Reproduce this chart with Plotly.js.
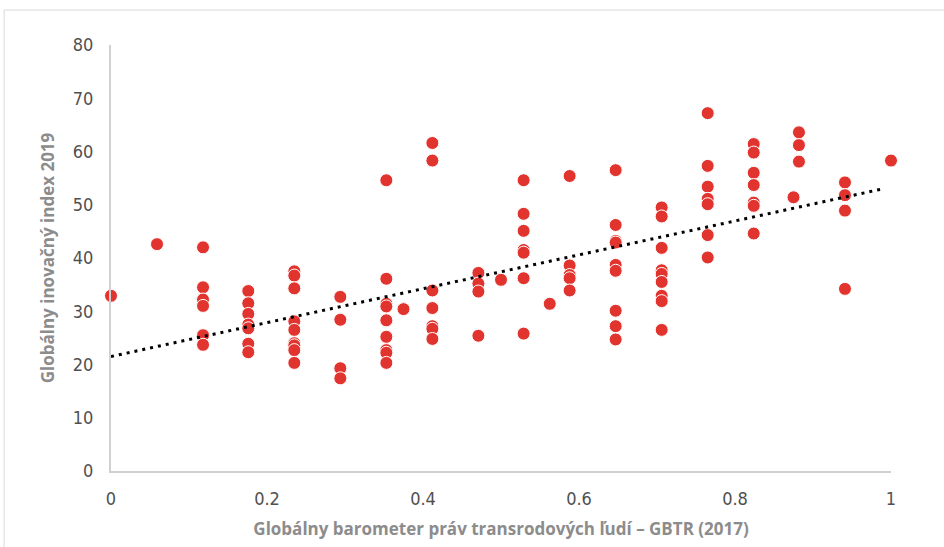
<!DOCTYPE html>
<html>
<head>
<meta charset="utf-8">
<script src="https://cdn.plot.ly/plotly-3.0.1.min.js"></script>
<style>html,body{margin:0;padding:0;background:#fff;}#chart{width:944px;height:547px;}</style>
</head>
<body>
<div id="chart"></div>
<script>
// GBTR score (x) and Global Innovation Index 2019 (y)
const gbtr = [
  0,
  0.059,
  0.118,0.118,0.118,0.118,0.118,0.118,
  0.176,0.176,0.176,0.176,0.176,0.176,0.176,
  0.235,0.235,0.235,0.235,0.235,0.235,0.235,0.235,0.235,
  0.294,0.294,0.294,0.294,
  0.353,0.353,0.353,0.353,0.353,0.353,0.353,0.353,0.353,
  0.375,
  0.412,0.412,0.412,0.412,0.412,0.412,0.412,
  0.471,0.471,0.471,0.471,
  0.5,
  0.529,0.529,0.529,0.529,0.529,0.529,0.529,
  0.5625,
  0.588,0.588,0.588,0.588,0.588,
  0.647,0.647,0.647,0.647,0.647,0.647,0.647,0.647,0.647,
  0.706,0.706,0.706,0.706,0.706,0.706,0.706,0.706,0.706,
  0.765,0.765,0.765,0.765,0.765,0.765,0.765,
  0.824,0.824,0.824,0.824,0.824,0.824,0.824,
  0.875,
  0.882,0.882,0.882,
  0.941,0.941,0.941,0.941,
  1
];
const gii = [
  32.9,
  42.6,
  42.0,34.5,32.2,31.0,25.5,23.7,
  33.8,31.5,29.5,27.5,26.8,23.9,22.3,
  37.5,36.7,34.3,28.1,26.5,24.0,23.6,22.7,20.3,
  32.7,28.4,19.3,17.4,
  54.6,36.1,31.4,30.9,28.3,25.2,22.7,22.2,20.3,
  30.4,
  61.6,58.3,33.9,30.6,27.2,26.7,24.8,
  37.2,35.2,33.7,25.4,
  35.9,
  54.6,48.3,45.1,41.5,41.0,36.2,25.8,
  31.4,
  55.4,38.6,36.8,36.2,33.9,
  56.5,46.2,43.2,42.9,38.7,37.6,30.1,27.2,24.7,
  49.5,47.8,41.9,37.7,37.0,35.5,32.9,31.9,26.5,
  67.2,57.3,53.4,51.1,50.1,44.3,40.1,
  61.4,59.8,56.0,53.7,50.4,49.8,44.6,
  51.4,
  63.6,61.2,58.1,
  54.2,51.8,48.9,34.2,
  58.3
];
// Linear trend line
const trendX = [0, 0.99];
const trendY = [21.5, 53.0];

const xTickVals = [0, 0.2, 0.4, 0.6, 0.8, 1];
const xTickText = ['0', '0.2', '0.4', '0.6', '0.8', '1'];
const yTickVals = [0, 10, 20, 30, 40, 50, 60, 70, 80];

const tickFont = {family: '"Liberation Sans Narrow", "DejaVu Sans Condensed", Roboto, sans-serif', size: 18, color: '#505050'};
const titleFont = {family: '"Open Sans", Lato, sans-serif', size: 17, color: '#8c8c8c', weight: 'bold'};

const data = [
  {
    x: gbtr, y: gii, type: 'scatter', mode: 'markers', cliponaxis: false,
    marker: {color: '#e2342f', size: 13, line: {color: '#ffffff', width: 1}},
    hoverinfo: 'x+y'
  },
  {
    x: trendX, y: trendY, type: 'scatter', mode: 'lines', cliponaxis: false,
    line: {color: '#000000', width: 3, dash: '3px,5px'},
    hoverinfo: 'skip'
  }
];

const layout = {
  width: 944, height: 547,
  margin: {l: 111, r: 53, t: 45, b: 76},
  paper_bgcolor: '#ffffff', plot_bgcolor: '#ffffff',
  showlegend: false,
  xaxis: {
    range: [0, 1], tickvals: xTickVals, ticktext: xTickText,
    showgrid: false, zeroline: false, showline: true, linecolor: '#d0d0d0', linewidth: 2,
    ticks: 'outside', ticklen: 10, tickcolor: 'rgba(0,0,0,0)',
    tickfont: tickFont,
    title: {text: 'Globálny barometer práv transrodových ľudí – GBTR (2017)', font: titleFont, standoff: 16}
  },
  yaxis: {
    range: [0, 80], tickvals: yTickVals,
    showgrid: false, zeroline: false, showline: true, linecolor: '#d0d0d0', linewidth: 2,
    ticks: 'outside', ticklen: 12, tickcolor: 'rgba(0,0,0,0)',
    tickfont: tickFont,
    title: {text: 'Globálny inovačný index 2019', font: titleFont, standoff: 14}
  },
  shapes: [
    {type: 'rect', xref: 'paper', yref: 'paper', x0: -0.137, x1: 1.3, y0: -0.4, y1: 1.082,
     line: {color: '#d9d9d9', width: 1}, fillcolor: 'rgba(0,0,0,0)', layer: 'below'}
  ]
};

Plotly.newPlot('chart', data, layout, {displayModeBar: false, staticPlot: true});
</script>
</body>
</html>
